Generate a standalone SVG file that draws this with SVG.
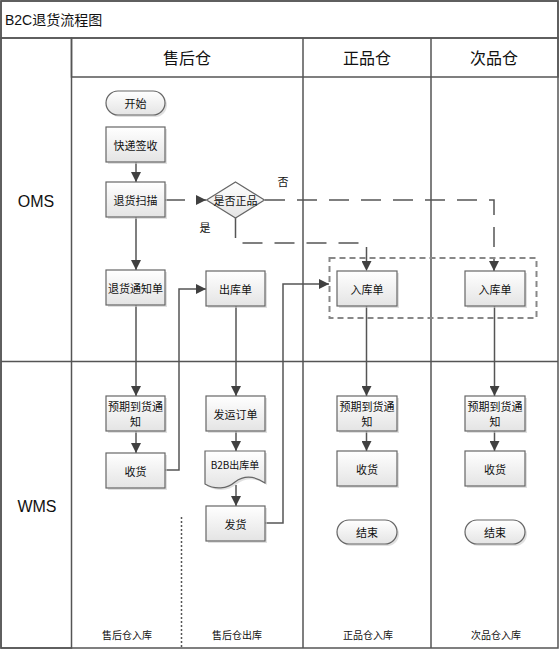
<svg xmlns="http://www.w3.org/2000/svg" width="560" height="651" viewBox="0 0 560 651">
<style>
.lane{fill:none;stroke:#555;stroke-width:1.5}
.node{fill:url(#ng);stroke:#666;stroke-width:1.2}
.shadow{fill:#ccc;opacity:0.6}
.t{font-family:"Noto Sans CJK SC",sans-serif;font-size:11px;fill:#111;text-anchor:middle;dominant-baseline:central}
.hdr{font-family:"Noto Sans CJK SC",sans-serif;font-size:16px;fill:#111;text-anchor:middle;dominant-baseline:central}
.lbl{font-family:"Liberation Sans","Open Sans",sans-serif;font-size:16px;fill:#111;text-anchor:middle;dominant-baseline:central}
.foot{font-family:"Noto Sans CJK SC",sans-serif;font-size:10px;fill:#111;text-anchor:middle;dominant-baseline:central}
.c{fill:none;stroke:#555;stroke-width:1.5}
.d{fill:none;stroke:#555;stroke-width:1.5;stroke-dasharray:20 12}
</style>
<defs>
<linearGradient id="ng" x1="0" y1="0" x2="0" y2="1"><stop offset="0" stop-color="#ffffff"/><stop offset="1" stop-color="#e4e4e4"/></linearGradient>
<linearGradient id="hg" x1="0" y1="0" x2="0" y2="1"><stop offset="0" stop-color="#ffffff"/><stop offset="1" stop-color="#ececec"/></linearGradient>
<linearGradient id="lg" x1="0" y1="0" x2="1" y2="0"><stop offset="0" stop-color="#ffffff"/><stop offset="1" stop-color="#ebebeb"/></linearGradient>
<marker id="a" viewBox="0 0 10 10" refX="10" refY="5" markerWidth="10" markerHeight="10" markerUnits="userSpaceOnUse" orient="auto"><path d="M0,0 L10,5 L0,10 z" fill="#404040"/></marker>
</defs>

<g id="frame">
<rect x="1" y="1" width="557" height="647" fill="#fff" class="lane"/>
<rect x="1" y="1" width="557" height="37" fill="url(#hg)" class="lane"/>
<text x="5" y="20" font-family="'Liberation Sans','Noto Sans CJK SC',sans-serif" font-size="14" fill="#111" dominant-baseline="central">B2C退货流程图</text>
<rect x="1" y="38" width="70.5" height="610" fill="url(#lg)" class="lane"/>
<rect x="71.5" y="38" width="486.5" height="39" fill="url(#hg)" class="lane"/>
<line x1="303" y1="38" x2="303" y2="648" class="lane"/>
<line x1="431" y1="38" x2="431" y2="648" class="lane"/>
<line x1="1" y1="361.5" x2="558" y2="361.5" class="lane"/>
<text x="187" y="57" class="hdr">售后仓</text>
<text x="367" y="57" class="hdr">正品仓</text>
<text x="494" y="57" class="hdr">次品仓</text>
<text x="36" y="201" class="lbl">OMS</text>
<text x="37" y="506" class="lbl">WMS</text>
<line x1="181.5" y1="517" x2="181.5" y2="648" stroke="#555" stroke-width="1.5" stroke-dasharray="2 2"/>
<text x="127" y="634" class="foot">售后仓入库</text>
<text x="237" y="634" class="foot">售后仓出库</text>
<text x="368" y="634" class="foot">正品仓入库</text>
<text x="496" y="634" class="foot">次品仓入库</text>
</g>

<g id="group-box"><rect x="329.5" y="258" width="207" height="60" fill="none" stroke="#888" stroke-width="2" stroke-dasharray="6 4"/></g>

<g id="connectors">
<path class="c" d="M136,162 V182" marker-end="url(#a)"/>
<path class="d" d="M165,200 H206" marker-end="url(#a)"/>
<path class="d" d="M265,200 H494 V271" marker-end="url(#a)"/>
<path class="d" d="M235.5,218 V243 H366.5 V271" marker-end="url(#a)"/>
<path class="c" d="M136,217 V270" marker-end="url(#a)"/>
<path class="c" d="M136,305 V396" marker-end="url(#a)"/>
<path class="c" d="M136,431 V453" marker-end="url(#a)"/>
<path class="c" d="M165,470 H179 V289 H206" marker-end="url(#a)"/>
<path class="c" d="M236,306 V396" marker-end="url(#a)"/>
<path class="c" d="M236,431 V451" marker-end="url(#a)"/>
<path class="c" d="M236,485 V506" marker-end="url(#a)"/>
<path class="c" d="M265,523 H283 V284 H329" marker-end="url(#a)"/>
<path class="c" d="M366.5,306 V396" marker-end="url(#a)"/>
<path class="c" d="M366.5,431 V451" marker-end="url(#a)"/>
<path class="c" d="M494.5,306 V396" marker-end="url(#a)"/>
<path class="c" d="M494.5,431 V451" marker-end="url(#a)"/>
<text x="283" y="181" class="t">否</text>
<text x="205" y="227" class="t">是</text>
</g>

<g id="start"><rect x="108" y="93" width="59" height="24" rx="12" class="shadow"/><rect x="106" y="91" width="59" height="24" rx="12" class="node"/><text x="135.5" y="103" class="t">开始</text></g>
<g id="kuaidi"><rect x="108" y="129" width="59" height="35" class="shadow"/><rect x="106" y="127" width="59" height="35" class="node"/><text x="135.5" y="144.5" class="t">快递签收</text></g>
<g id="scan"><rect x="108" y="184" width="59" height="35" class="shadow"/><rect x="106" y="182" width="59" height="35" class="node"/><text x="135.5" y="199.5" class="t">退货扫描</text></g>
<g id="decision"><polygon points="235.5,182 264.5,200 235.5,218 206.5,200" class="node"/><text x="235.5" y="200" class="t">是否正品</text></g>
<g id="notice"><rect x="108" y="272" width="59" height="35" class="shadow"/><rect x="106" y="270" width="59" height="35" class="node"/><text x="135.5" y="287.5" class="t">退货通知单</text></g>
<g id="outorder"><rect x="208" y="273" width="59" height="35" class="shadow"/><rect x="206" y="271" width="59" height="35" class="node"/><text x="235.5" y="288.5" class="t">出库单</text></g>
<g id="in-good"><rect x="339" y="273" width="60" height="35" class="shadow"/><rect x="337" y="271" width="60" height="35" class="node"/><text x="367" y="288.5" class="t">入库单</text></g>
<g id="in-bad"><rect x="467" y="273" width="60" height="35" class="shadow"/><rect x="465" y="271" width="60" height="35" class="node"/><text x="495" y="288.5" class="t">入库单</text></g>

<g id="asn1"><rect x="108" y="398" width="59" height="35" class="shadow"/><rect x="106" y="396" width="59" height="35" class="node"/><text x="135.5" y="406" class="t">预期到货通</text><text x="135.5" y="421" class="t">知</text></g>
<g id="recv1"><rect x="108" y="455" width="59" height="35" class="shadow"/><rect x="106" y="453" width="59" height="35" class="node"/><text x="135.5" y="470.5" class="t">收货</text></g>
<g id="ship-order"><rect x="208" y="398" width="59" height="35" class="shadow"/><rect x="206" y="396" width="59" height="35" class="node"/><text x="235.5" y="413.5" class="t">发运订单</text></g>
<g id="b2b"><path d="M207,453 H267 V485 C255,477 245,478 237,484 C229,491 217,492 207,486 Z" class="shadow"/><path d="M205,451 H265 V483 C253,475 243,476 235,482 C227,489 215,490 205,484 Z" class="node"/><text x="235" y="464" class="t" style="font-size:10px">B2B出库单</text></g>
<g id="ship"><rect x="208" y="508" width="59" height="35" class="shadow"/><rect x="206" y="506" width="59" height="35" class="node"/><text x="235.5" y="523.5" class="t">发货</text></g>

<g id="asn2"><rect x="339" y="398" width="60" height="35" class="shadow"/><rect x="337" y="396" width="60" height="35" class="node"/><text x="367" y="406" class="t">预期到货通</text><text x="367" y="421" class="t">知</text></g>
<g id="recv2"><rect x="339" y="453" width="60" height="35" class="shadow"/><rect x="337" y="451" width="60" height="35" class="node"/><text x="367" y="468.5" class="t">收货</text></g>
<g id="end1"><rect x="339" y="522" width="60" height="24" rx="12" class="shadow"/><rect x="337" y="520" width="60" height="24" rx="12" class="node"/><text x="367" y="532" class="t">结束</text></g>

<g id="asn3"><rect x="467" y="398" width="60" height="35" class="shadow"/><rect x="465" y="396" width="60" height="35" class="node"/><text x="495" y="406" class="t">预期到货通</text><text x="495" y="421" class="t">知</text></g>
<g id="recv3"><rect x="467" y="453" width="60" height="35" class="shadow"/><rect x="465" y="451" width="60" height="35" class="node"/><text x="495" y="468.5" class="t">收货</text></g>
<g id="end2"><rect x="467" y="522" width="60" height="24" rx="12" class="shadow"/><rect x="465" y="520" width="60" height="24" rx="12" class="node"/><text x="495" y="532" class="t">结束</text></g>
</svg>
